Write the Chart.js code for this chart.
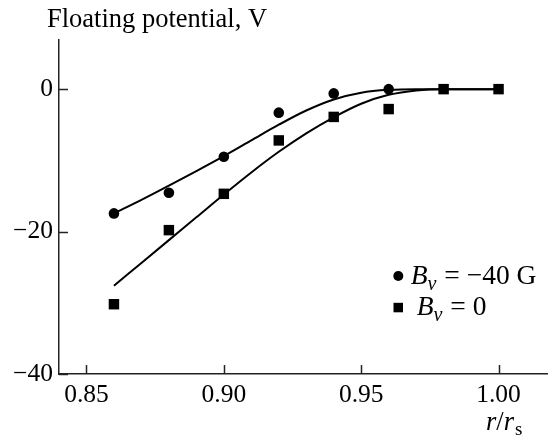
<!DOCTYPE html>
<html>
<head>
<meta charset="utf-8">
<script src="https://cdn.jsdelivr.net/npm/chart.js@4/dist/chart.umd.min.js"></script>
<style>
  html, body { margin: 0; padding: 0; background: #fff; }
  #wrap { position: relative; width: 548px; height: 440px; }
</style>
</head>
<body>
<div id="wrap"><canvas id="chart" width="548" height="440"></canvas></div>
<script>
// measured points, r/rs
const radiusB40 = [0.86, 0.88, 0.90, 0.92, 0.94, 0.96];
const potentialB40 = [-17.45, -14.55, -9.5, -3.3, -0.6, 0.0];
const radiusB0 = [0.86, 0.88, 0.90, 0.92, 0.94, 0.96, 0.98, 1.00];
const potentialB0 = [-30.2, -19.8, -14.7, -7.2, -3.9, -2.8, 0.0, 0.0];

// fitted curves
const fitRadius = [0.86, 0.87, 0.88, 0.89, 0.90, 0.91, 0.92, 0.93, 0.94, 0.95, 0.96, 0.97, 0.98, 1.00];
const fitB40 = [-17.45, -15.55, -13.55, -11.5, -9.4, -7.2, -5.0, -3.0, -1.45, -0.5, -0.1, 0.0, 0.0, 0.0];
const fitB0 = [-27.6, -24.4, -21.2, -18.0, -14.8, -11.7, -8.8, -6.2, -3.95, -2.05, -0.8, -0.18, 0.0, 0.0];

const xTicks = [0.85, 0.90, 0.95, 1.00];
const yTicks = [-40, -20, 0];

const legendItems = [
    { marker: 'circle', text: ' = \u221240 G' },
    { marker: 'rect', text: ' = 0' }
];

const SERIF = '"Liberation Serif", "DejaVu Serif", serif';
const INK = '#000';

function toPoints(xs, ys) {
    return ys.map((y, i) => ({ x: xs[i], y: y }));
}

// ticks pointing inward + title, axis name and legend
const decorPlugin = {
    id: 'decor',
    afterDraw(chart) {
        const ctx = chart.ctx;
        const xs = chart.scales.x;
        const ys = chart.scales.y;
        const area = chart.chartArea;

        ctx.save();
        ctx.strokeStyle = '#222';
        ctx.lineWidth = 1.5;
        xTicks.forEach(v => {
            const px = Math.round(xs.getPixelForValue(v)) + 0.5;
            ctx.beginPath();
            ctx.moveTo(px, area.bottom);
            ctx.lineTo(px, area.bottom - 9);
            ctx.stroke();
        });
        yTicks.forEach(v => {
            const py = Math.round(ys.getPixelForValue(v)) + 0.5;
            ctx.beginPath();
            ctx.moveTo(area.left, py);
            ctx.lineTo(area.left + 9, py);
            ctx.stroke();
        });

        // title
        ctx.fillStyle = INK;
        ctx.textBaseline = 'alphabetic';
        ctx.textAlign = 'left';
        ctx.font = '26.5px ' + SERIF;
        ctx.fillText('Floating potential, V', 47, 27);

        // x axis name r/rs
        let x = 486;
        const by = 430;
        ctx.font = 'italic 26.5px ' + SERIF;
        ctx.fillText('r', x, by); x += ctx.measureText('r').width;
        ctx.font = '26.5px ' + SERIF;
        ctx.fillText('/', x, by); x += ctx.measureText('/').width;
        ctx.font = 'italic 26.5px ' + SERIF;
        ctx.fillText('r', x, by); x += ctx.measureText('r').width;
        ctx.font = '19px ' + SERIF;
        ctx.fillText('s', x + 1, by + 5);

        // legend
        legendItems.forEach((item, i) => {
            const cy = 276 + i * 31.3;
            ctx.fillStyle = INK;
            if (item.marker === 'circle') {
                ctx.beginPath();
                ctx.arc(398.3, cy, 5, 0, Math.PI * 2);
                ctx.fill();
            } else {
                ctx.fillRect(393.5, cy - 4.5, 9.5, 9.5);
            }
            let tx = i === 0 ? 410.7 : 416.7;
            const base = cy + 8;
            ctx.font = 'italic 27.5px ' + SERIF;
            ctx.fillText('B', tx, base); tx += ctx.measureText('B').width;
            ctx.font = 'italic 20px ' + SERIF;
            ctx.fillText('v', tx, base + 6); tx += ctx.measureText('v').width + 1;
            ctx.font = '27.5px ' + SERIF;
            ctx.fillText(item.text, tx, base);
        });
        ctx.restore();
    }
};

new Chart(document.getElementById('chart'), {
    type: 'scatter',
    data: {
        datasets: [
            {
                label: 'fit -40 G',
                data: toPoints(fitRadius, fitB40),
                showLine: true,
                borderColor: INK,
                borderWidth: 2,
                pointRadius: 0,
                cubicInterpolationMode: 'monotone'
            },
            {
                label: 'fit 0',
                data: toPoints(fitRadius, fitB0),
                showLine: true,
                borderColor: INK,
                borderWidth: 2,
                pointRadius: 0,
                cubicInterpolationMode: 'monotone'
            },
            {
                label: 'Bv = -40 G',
                data: toPoints(radiusB40, potentialB40),
                pointStyle: 'circle',
                pointRadius: 5.3,
                backgroundColor: INK,
                borderColor: INK,
                borderWidth: 0
            },
            {
                label: 'Bv = 0',
                data: toPoints(radiusB0, potentialB0),
                pointStyle: 'rect',
                pointRadius: 7.4,
                backgroundColor: INK,
                borderColor: INK,
                borderWidth: 0
            }
        ]
    },
    options: {
        responsive: false,
        animation: false,
        layout: { autoPadding: false, padding: { top: 40, left: 0, right: 0, bottom: 0 } },
        plugins: {
            legend: { display: false },
            tooltip: { enabled: false }
        },
        scales: {
            x: {
                type: 'linear',
                min: 0.84,
                max: 1.018,
                afterBuildTicks: s => { s.ticks = xTicks.map(v => ({ value: v })); },
                afterFit: s => {
                    s.height = 66;
                    s.paddingLeft = 0;
                    s.paddingRight = 0;
                },
                grid: { display: false, drawTicks: false },
                border: { display: true, color: '#222', width: 1.5 },
                ticks: {
                    padding: 6,
                    color: INK,
                    font: { family: SERIF, size: 25.5 },
                    maxRotation: 0,
                    callback: v => v.toFixed(2)
                }
            },
            y: {
                type: 'linear',
                min: -40,
                max: 6.9,
                afterBuildTicks: s => { s.ticks = yTicks.map(v => ({ value: v })); },
                afterFit: s => {
                    s.width = 59;
                    s.paddingTop = 0;
                    s.paddingBottom = 0;
                },
                grid: { display: false, drawTicks: false },
                border: { display: true, color: '#222', width: 1.5 },
                ticks: {
                    padding: 6,
                    color: INK,
                    font: { family: SERIF, size: 25.5 },
                    callback: v => v < 0 ? '\u2212' + Math.abs(v) : String(v)
                }
            }
        }
    },
    plugins: [decorPlugin]
});
</script>
</body>
</html>
